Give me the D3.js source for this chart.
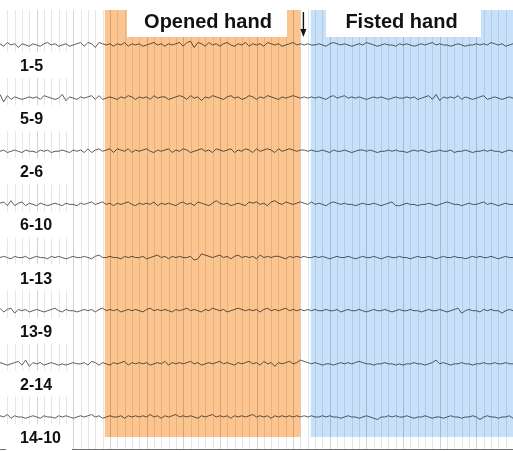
<!DOCTYPE html>
<html><head><meta charset="utf-8">
<script src="https://cdn.jsdelivr.net/npm/d3@7"></script>
<style>body{margin:0;background:#fff}svg{display:block}</style>
</head><body><svg id="c" width="513" height="451"></svg>
<script>
// channel names (bipolar derivations)
const channels = ["1-5","5-9","2-6","6-10","1-13","13-9","2-14","14-10"];

// signal samples, one every 0.5 s of the 70 s record (positive = up)
const ch_1_5 = [1,-1,2,0,1,-2,1,0,-1,1, 0,-1,1,2,0,1,-1,0,1,-1, 0,1,2,-1,2,1,-2,2,1,
  0,1,-1,1,0,2,-1,1,0,1, -1,0,1,2,0,1,-1,1,0,1, 2,-1,2,3,-2,2,1,-1,2,0, 1,-1,1,2,0,-1,1,0,2,-1, 1,0,1,-1,2,1,0,1,-1,0, 1,2,0,1,
  0,1,0,0,1,0,-1,1,2,1, 0,1,0,-1,0,1,0,2,1,0, -1,0,1,0,0,-1,1,0,1,0, -1,0,1,0,1,2,0,1,0,0, -1,0,1,0,-1,0,0,1,0,1, 0,2,1,0,1,-1,0,1];
const ch_5_9 = [3,-3,2,-1,1,0,-1,0,1,0, 1,-1,2,1,0,-1,0,3,-2,1, 0,-1,1,0,1,2,-1,2,-1,
  0,1,0,-1,1,0,2,1,-1,1, 0,1,-1,2,0,1,1,-1,0,1, 2,1,-1,2,0,1,-2,1,0,2, 1,0,-1,1,2,0,1,-1,0,2, 1,-1,1,0,2,1,0,-1,1,0, 1,2,1,0,
  1,0,1,0,1,0,-1,1,2,0, 1,2,0,1,0,1,0,-1,0,1, 0,1,0,-1,0,1,0,0,1,0, 1,-1,0,1,2,-1,3,-2,1,0, 1,0,2,-1,1,0,-1,0,1,2, -1,0,1,0,-1,0,1,0];
const ch_2_6 = [0,1,-1,0,1,0,-1,1,0,0, -1,1,0,1,-1,0,0,1,0,-1, 1,0,1,-1,2,-1,1,2,0,
  1,2,-1,2,1,0,2,-1,1,0, 1,2,0,-1,1,0,1,2,-1,1, 0,2,1,-1,0,1,2,0,1,-1, 2,1,0,1,2,-1,1,0,2,1, -1,2,0,1,2,1,-1,2,0,1, 2,1,0,1,
  1,0,1,0,0,1,0,-1,1,0, 0,1,0,-1,0,1,1,0,1,0, -1,0,0,1,0,1,0,0,-1,0, 1,0,1,0,-1,0,0,1,0,0, 1,-1,0,0,1,0,-1,0,0,1, 0,1,0,0,-1,0,1,0];
const ch_6_10 = [1,2,-1,3,-1,1,2,-1,1,0, -1,1,0,-1,0,1,0,-1,1,0, 0,-1,1,0,1,2,0,1,2,
  0,1,-1,1,0,1,2,0,-1,1, 0,1,0,2,-1,1,0,1,0,-1, 1,2,0,1,-1,2,1,0,-1,1, 3,1,0,1,-1,0,1,0,-1,2, 1,2,0,1,-1,2,3,1,0,2, 1,0,1,2,
  1,0,2,0,1,0,-1,1,2,1, 0,1,0,0,-1,0,1,0,0,1, 0,-1,0,1,2,-1,-1,0,1,0, 0,-1,0,0,1,0,-1,0,1,2, 1,0,0,-1,0,1,0,0,1,2, 0,1,0,-1,0,1,0,0];
const ch_1_13 = [0,1,0,-1,1,0,0,1,-1,0, 1,0,0,-1,1,0,1,0,-1,0, 1,0,0,1,0,-1,1,2,0,
  0,1,0,0,-1,1,0,1,0,0, 1,-1,0,1,2,0,1,-1,1,0, 1,0,0,1,-2,-1,3,2,1,0, 1,2,0,1,-1,1,2,0,1,0, 1,-1,2,0,1,0,1,1,0,-1, 1,0,1,0,
  1,0,0,1,0,1,0,-1,0,1, 0,0,1,0,-1,0,1,0,0,1, 0,-1,0,1,0,0,1,0,0,-1, 0,1,0,0,1,0,-1,0,1,0, 0,1,0,0,-1,0,1,0,1,0, 0,1,0,-1,0,1,0,0];
const ch_13_9 = [2,-1,1,2,-2,1,0,1,-1,0, 1,0,-1,0,1,2,0,-1,1,0, 0,-1,0,1,0,1,-1,1,2,
  0,1,0,1,-1,0,1,0,1,0, -1,1,2,0,1,0,1,0,-1,1, 0,1,2,0,1,0,-1,1,0,2, 1,0,1,-1,0,1,2,1,0,1, 0,1,-1,1,2,0,1,0,1,2, 0,1,0,1,
  0,1,0,1,0,0,1,0,0,1, -1,0,1,0,0,1,0,-1,0,1, 0,0,1,0,-1,0,1,0,0,1, 0,0,-1,0,1,0,0,1,0,-1, 0,1,2,-2,0,1,0,0,-1,1, 0,1,0,0,-2,0,1,0];
const ch_2_14 = [1,0,-1,0,1,2,-1,3,-2,1, 0,1,-1,0,1,0,-1,0,-1,0, 1,0,0,1,-1,2,1,-1,1,
  0,-1,1,0,1,2,-1,1,0,1, 0,1,-1,0,1,0,2,-1,1,0, 1,0,1,2,0,1,-1,0,1,0, 1,2,0,1,0,-1,1,0,1,2, 0,1,-1,2,0,1,-2,1,0,1, 2,0,1,3,
  2,1,0,1,0,-1,0,0,-1,0, 1,0,1,0,1,2,1,0,0,-1, 0,0,1,0,0,-1,0,-1,0,0, 1,0,0,-1,0,1,3,0,1,0, -1,0,0,1,0,0,-1,0,0,1, 0,0,1,0,0,1,0,0];
const ch_14_10 = [1,0,2,-1,1,0,0,-1,0,1, 0,-1,1,0,0,-1,1,0,1,0, -1,0,1,0,1,2,0,1,-1,
  0,1,0,0,1,-1,1,0,1,0, 1,0,2,0,1,-1,1,0,1,2, 0,1,0,1,0,-1,1,0,1,2, 0,1,0,1,-1,1,0,1,0,1, 2,0,1,0,1,-1,1,0,1,0, 1,0,1,0,
  1,0,1,0,0,1,0,1,0,0, -1,0,1,0,0,-1,0,1,0,-1, -2,0,0,1,0,1,0,0,1,0, -1,0,0,1,0,-1,0,0,-1,0, 1,0,0,-1,0,0,1,0,-2,0, 1,0,0,-1,0,0,1,-1];
const traces = [ch_1_5, ch_5_9, ch_2_6, ch_6_10, ch_1_13, ch_13_9, ch_2_14, ch_14_10];

// task phases (seconds)
const phaseNames = ["Opened hand", "Fisted hand"];
const phaseStart = [14.3, 42.4];
const phaseEnd = [41.0, 70];
const phaseColors = ["#fcc590", "#c8e1fb"];
const markerTime = 41.4; // arrow: change of task
const totalTime = 70;

const W = 513, H = 451;
const svg = d3.select("#c");
const x = d3.scaleLinear().domain([0, totalTime]).range([0, W]);
const yRow = d3.scalePoint().domain(channels).range([45, 417]);
const amp = d3.scaleLinear().domain([-4, 4]).range([5, -5]);

const yTop = 10, yBottom = 437;

// grid (one line per second)
const gridTicks = d3.range(1, totalTime);
svg.append("g").selectAll("line").data(gridTicks).join("line")
  .attr("x1", d => Math.round(x(d)) + 0.5).attr("x2", d => Math.round(x(d)) + 0.5)
  .attr("y1", yTop).attr("y2", 449)
  .attr("stroke", d => d % 5 === 0 ? "#d2d2d2" : "#e6e6e6").attr("stroke-width", 1);
svg.append("line").attr("x1", 0).attr("x2", W).attr("y1", 449.5).attr("y2", 449.5)
  .attr("stroke", "#707070").attr("stroke-width", 1.2);

// traces
const line = d3.line().curve(d3.curveLinear);
traces.forEach((vals, k) => {
  const xs = d3.scaleLinear().domain([0, vals.length - 1]).range([0, totalTime]);
  const base = yRow(channels[k]);
  svg.append("path")
    .attr("d", line(vals.map((v, i) => [x(xs(i)), base + amp(v)])))
    .attr("fill", "none").attr("stroke", "#555").attr("stroke-width", 0.95)
    .attr("stroke-linejoin", "round");
});

// phase shading
phaseNames.forEach((n, i) => {
  svg.append("rect")
    .attr("x", x(phaseStart[i])).attr("y", yTop)
    .attr("width", x(phaseEnd[i]) - x(phaseStart[i])).attr("height", yBottom - yTop)
    .attr("fill", phaseColors[i]).style("mix-blend-mode", "multiply");
});

// phase titles
const titleBox = [[127, 287], [326, 481]];
phaseNames.forEach((n, i) => {
  svg.append("rect").attr("x", titleBox[i][0]).attr("y", 0)
    .attr("width", titleBox[i][1] - titleBox[i][0]).attr("height", 37).attr("fill", "#fff");
  svg.append("text").attr("x", (titleBox[i][0] + titleBox[i][1]) / 2 + (i ? -2 : 1)).attr("y", 28)
    .attr("text-anchor", "middle").attr("font-family", "'Liberation Sans', Arial, sans-serif")
    .attr("font-weight", "bold").attr("font-size", 20).attr("fill", "#111").text(n);
});

// channel labels
channels.forEach((c, k) => {
  const cy = yRow(c) + 20;
  svg.append("rect").attr("x", 6).attr("y", cy - 13).attr("width", 66).attr("height", 26).attr("fill", "#fff");
  svg.append("text").attr("x", 20).attr("y", cy + 6)
    .attr("font-family", "'Liberation Sans', Arial, sans-serif")
    .attr("font-weight", "bold").attr("font-size", 16).attr("fill", "#111").text(c);
});

// marker arrow
const ax = x(markerTime);
svg.append("line").attr("x1", ax).attr("x2", ax).attr("y1", 12).attr("y2", 33)
  .attr("stroke", "#111").attr("stroke-width", 1.4);
svg.append("path").attr("d", `M${ax - 3},${29} L${ax},${37} L${ax + 3},${29} Z`).attr("fill", "#111");
</script></body></html>
